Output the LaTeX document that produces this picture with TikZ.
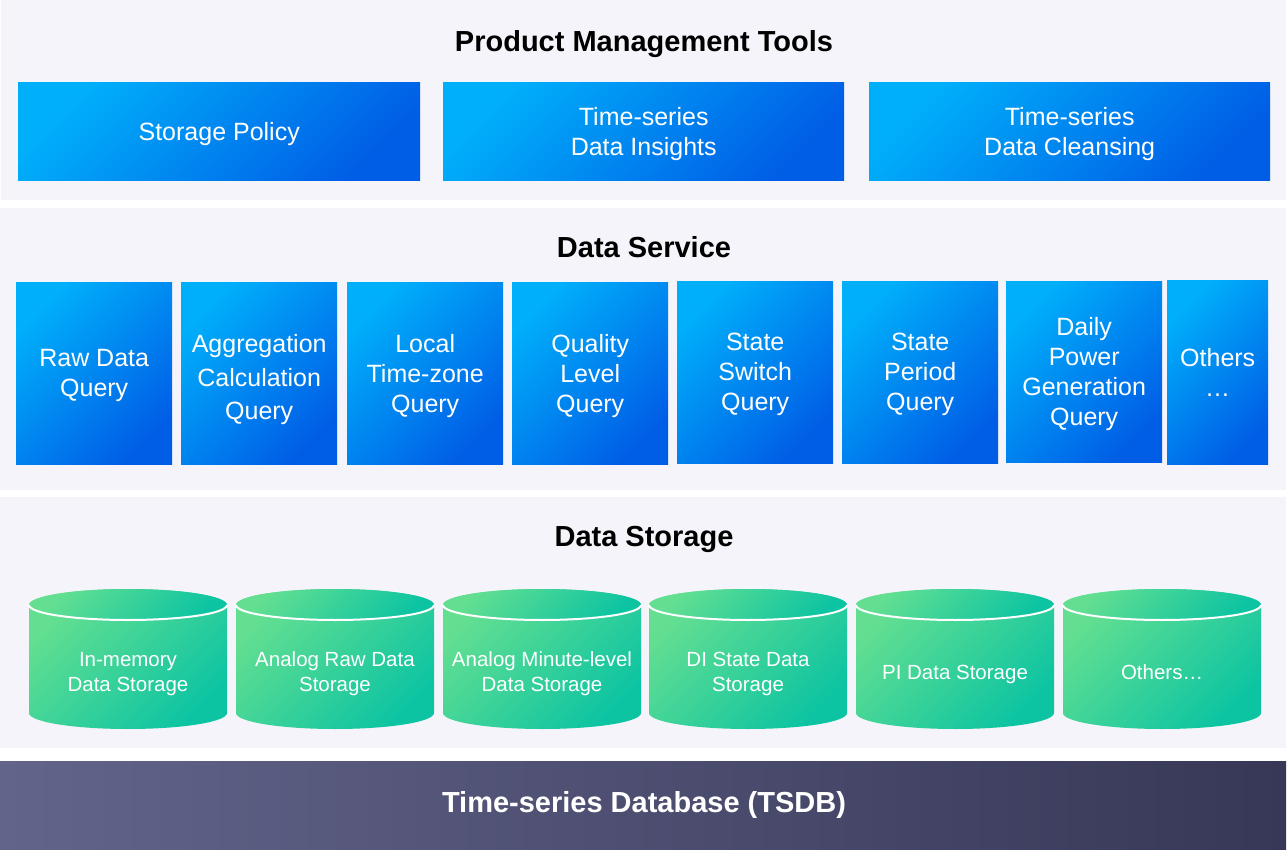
\documentclass[tikz,border=0pt]{standalone}
\usepackage{fontspec}
\setmainfont{Liberation Sans}
\definecolor{panelbg}{HTML}{F4F4FA}
\definecolor{bluelt}{HTML}{00AFFA}
\definecolor{bluedk}{HTML}{005EE6}
\definecolor{greenlt}{HTML}{64DF91}
\definecolor{greendk}{HTML}{0DC4A2}
\definecolor{slatelt}{HTML}{62648A}
\definecolor{slatedk}{HTML}{373857}
\tikzset{
  panel/.style={fill=panelbg},
  layertitle/.style={text depth=0pt, font=\fontsize{29}{33}\selectfont\bfseries},
  bluebox/.style={top color=bluelt, bottom color=bluedk, shading angle=45,
    text=white, align=center, inner sep=0pt, anchor=north west, text depth=0pt,
    font=\fontsize{25}{30}\selectfont},
  dbfill/.style={top color=greenlt, bottom color=greendk, shading angle=45},
  dblabel/.style={text=white, align=center, text depth=0pt, font=\fontsize{20.5}{25}\selectfont}
}
\begin{document}
\begin{tikzpicture}[x=1pt, y=-1pt]
      \useasboundingbox (0,0) rectangle (1288,850);
      % layer panels
      \fill[panel] (1,0) rectangle (1286,200);
      \fill[panel] (0,208) rectangle (1286,490);
      \fill[panel] (0,497) rectangle (1286,748);
      \shade[left color=slatelt, right color=slatedk] (0,761) rectangle (1286,850);
      % product management tools
      \node[layertitle] (tooltitle) at (644,41) {Product Management Tools};
      \node[bluebox, minimum width=402pt, minimum height=98pt] (policy) at (18,82) {Storage Policy};
      \node[bluebox, minimum width=401pt, minimum height=98pt] (insights) at (443,82) {Time-series\\Data Insights};
      \node[bluebox, minimum width=401pt, minimum height=98pt] (cleansing) at (869,82) {Time-series\\Data Cleansing};
      % data service
      \node[layertitle] (servicetitle) at (644,247) {Data Service};
      \node[bluebox, minimum width=156pt, minimum height=182pt] (rawquery) at (16,282) {Raw Data\\Query};
      \node[bluebox, minimum width=156pt, minimum height=182pt, font=\fontsize{25}{33.5}\selectfont] (aggquery) at (181,282) {\rule{0pt}{26pt}Aggregation\\Calculation\\Query};
      \node[bluebox, minimum width=156pt, minimum height=182pt] (tzquery) at (347,282) {Local\\Time-zone\\Query};
      \node[bluebox, minimum width=156pt, minimum height=182pt] (qualquery) at (512,282) {Quality\\Level\\Query};
      \node[bluebox, minimum width=156pt, minimum height=182pt] (switchquery) at (677,281) {State\\Switch\\Query};
      \node[bluebox, minimum width=156pt, minimum height=182pt] (periodquery) at (842,281) {State\\Period\\Query};
      \node[bluebox, minimum width=156pt, minimum height=181pt] (powerquery) at (1006,281) {Daily\\Power\\Generation\\Query};
      \node[bluebox, minimum width=101pt, minimum height=184pt] (otherquery) at (1167,280) {Others\\\dots};
      % data storage
      \node[layertitle] (storagetitle) at (644,536) {Data Storage};
      \foreach \x/\nm/\txt in {29/memdb/{In-memory\\Data Storage},
                               236/rawdb/{Analog Raw Data\\Storage},
                               443/minutedb/{Analog Minute-level\\Data Storage},
                               649/didb/{DI State Data\\Storage},
                               856/pidb/{PI Data Storage},
                               1063/otherdb/{Others\dots}} {
        \shade[dbfill] (\x,605) -- (\x,713) arc[start angle=180, end angle=0, x radius=99, y radius=16]
          -- (\x+198,605) arc[start angle=0, end angle=-180, x radius=99, y radius=16] -- cycle;
        \shade[dbfill] (\x+99,605) ellipse[x radius=99, y radius=16];
        \draw[white, line width=2pt] (\x,605) arc[start angle=180, end angle=0, x radius=99, y radius=15];
        \node[dblabel] (\nm) at (\x+99,672) {\txt};
      }
      % base
      \node[text=white, text depth=0pt, font=\fontsize{29}{33}\selectfont\bfseries] (tsdb) at (644,802) {Time-series Database (TSDB)};
    \end{tikzpicture}
\end{document}
